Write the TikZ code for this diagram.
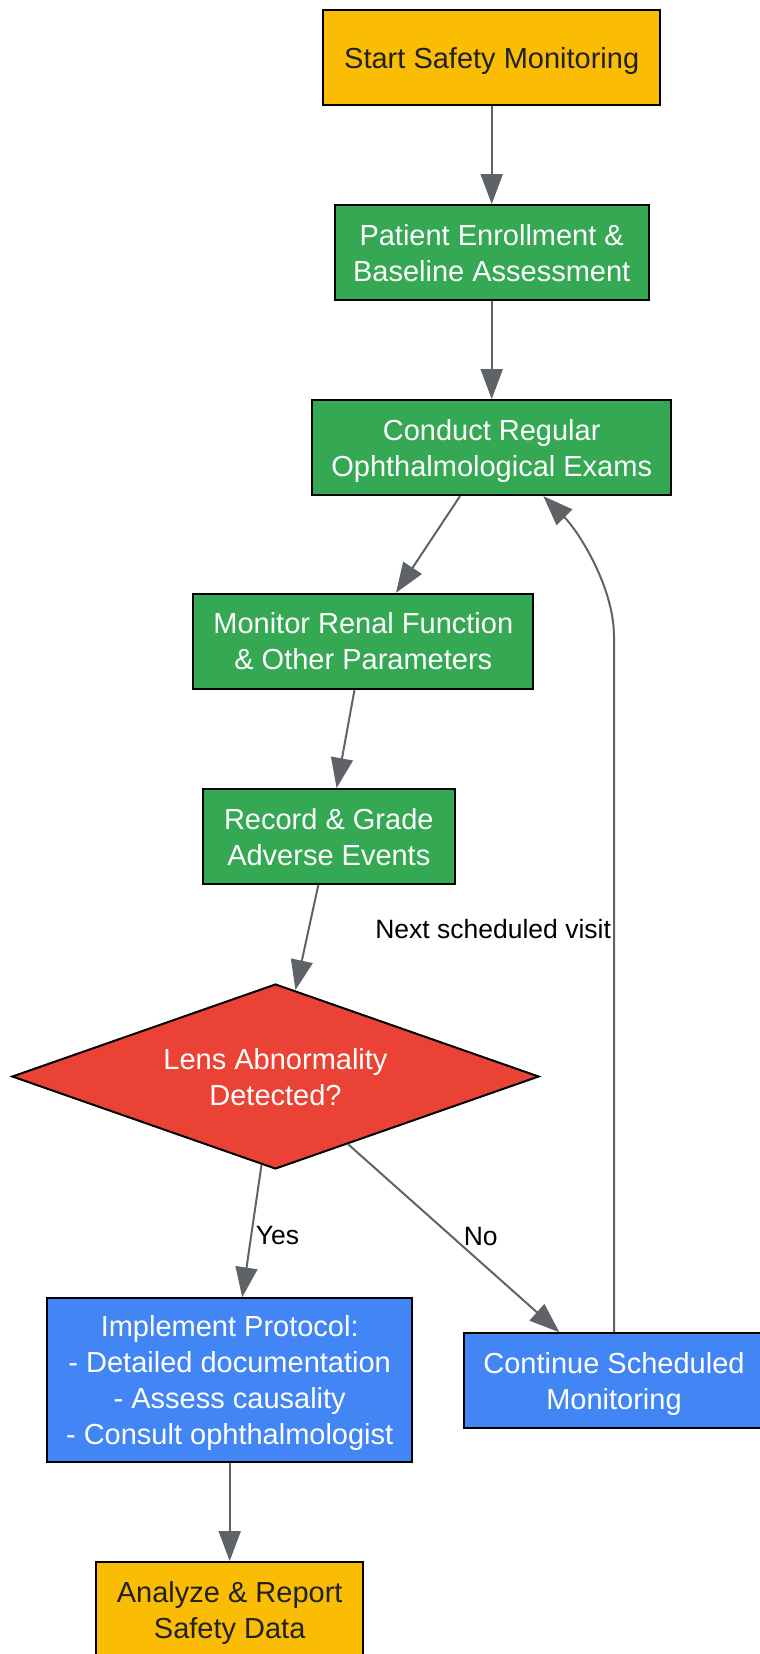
\documentclass[tikz,border=0pt]{standalone}
\usepackage{fontspec}
\setmainfont{Liberation Sans}
\usetikzlibrary{shapes.geometric, arrows.meta}

\definecolor{gyellow}{HTML}{FBBC04}
\definecolor{ggreen}{HTML}{34A853}
\definecolor{gred}{HTML}{EA4335}
\definecolor{gblue}{HTML}{4285F4}
\definecolor{arrowgray}{HTML}{5F6368}
\definecolor{darktext}{HTML}{202124}

\begin{document}
\begin{tikzpicture}[x = 1pt, y = -1pt,
    box/.style = {draw = black, line width = 2pt, minimum height = 95pt, inner sep = 0pt,
        align = center, text depth = 0pt, font = \fontsize{29}{36}\selectfont},
    startend/.style = {box, fill = gyellow, text = darktext},
    process/.style = {box, fill = ggreen, text = white},
    action/.style = {box, fill = gblue, text = white},
    decision/.style = {diamond, aspect = 2.85, draw = black, line width = 2pt, fill = gred,
        text = white, align = center, inner sep = 0pt, text depth = 0pt, minimum width = 527pt,
        minimum height = 185pt, font = \fontsize{29}{36}\selectfont},
    flow/.style = {draw = arrowgray, line width = 2pt, -{Triangle[length = 30pt, width = 22pt]}},
    elabel/.style = {font = \fontsize{26.5}{30}\selectfont, text = black, inner sep = 2pt}]

    \useasboundingbox (0, 0) rectangle (760, 1654);
    \clip (0, 0) rectangle (760, 1654);

    \node[startend, minimum width = 337pt] (start) at (491.7, 57.6) {Start Safety Monitoring};
    \node[process, minimum width = 314pt] (enroll) at (491.7, 252.6) {Patient Enrollment \&\\Baseline Assessment};
    \node[process, minimum width = 358.5pt] (exams) at (491.7, 447.6) {Conduct Regular\\Ophthalmological Exams};
    \node[process, minimum width = 340pt] (renal) at (363.3, 641.3) {Monitor Renal Function\\\& Other Parameters};
    \node[process, minimum width = 252.3pt] (record) at (328.8, 836.5) {Record \& Grade\\Adverse Events};

    \node[decision] (lens) at (275.5, 1076.5) {Lens Abnormality\\Detected?};

    \node[action, minimum width = 365pt, minimum height = 164pt] (protocol) at (229.7, 1380.3)
        {Implement Protocol:\\- Detailed documentation\\- Assess causality\\- Consult ophthalmologist};
    \node[action, minimum width = 301pt] (cont) at (614, 1380.7) {Continue Scheduled\\Monitoring};
    \node[startend, minimum width = 267pt] (report) at (229.7, 1609.5) {Analyze \& Report\\Safety Data};

    \draw[flow] (start) -- (enroll);
    \draw[flow] (enroll) -- (exams);
    \draw[flow] ([xshift = -31.7pt]exams.south) -- ([xshift = 32.7pt]renal.north);
    \draw[flow] ([xshift = -8.8pt]renal.south) -- ([xshift = 7.8pt]record.north);
    \draw[flow] ([xshift = -10.5pt]record.south) -- (lens.77.5);

    \draw[flow] (lens.261.2) -- node[elabel, anchor = west, xshift = 1pt, yshift = -4.5pt] (yes) {Yes} ([xshift = 12.5pt]protocol.north);
    \draw[flow] (lens.317.2) -- node[elabel, anchor = west, xshift = 7pt, yshift = 2pt] (no) {No} ([xshift = -54.7pt]cont.north);
    \draw[flow] (protocol) -- (report);

    % loop back to the exams
    \coordinate (bend) at (614, 636.7);
    \draw[flow] (cont.north) -- node[elabel, pos = 0.58, anchor = east] (next) {Next scheduled visit} (bend)
        .. controls +(0, -50) and +(35, 35) .. ([xshift = 51.6pt]exams.south);

\end{tikzpicture}
\end{document}
